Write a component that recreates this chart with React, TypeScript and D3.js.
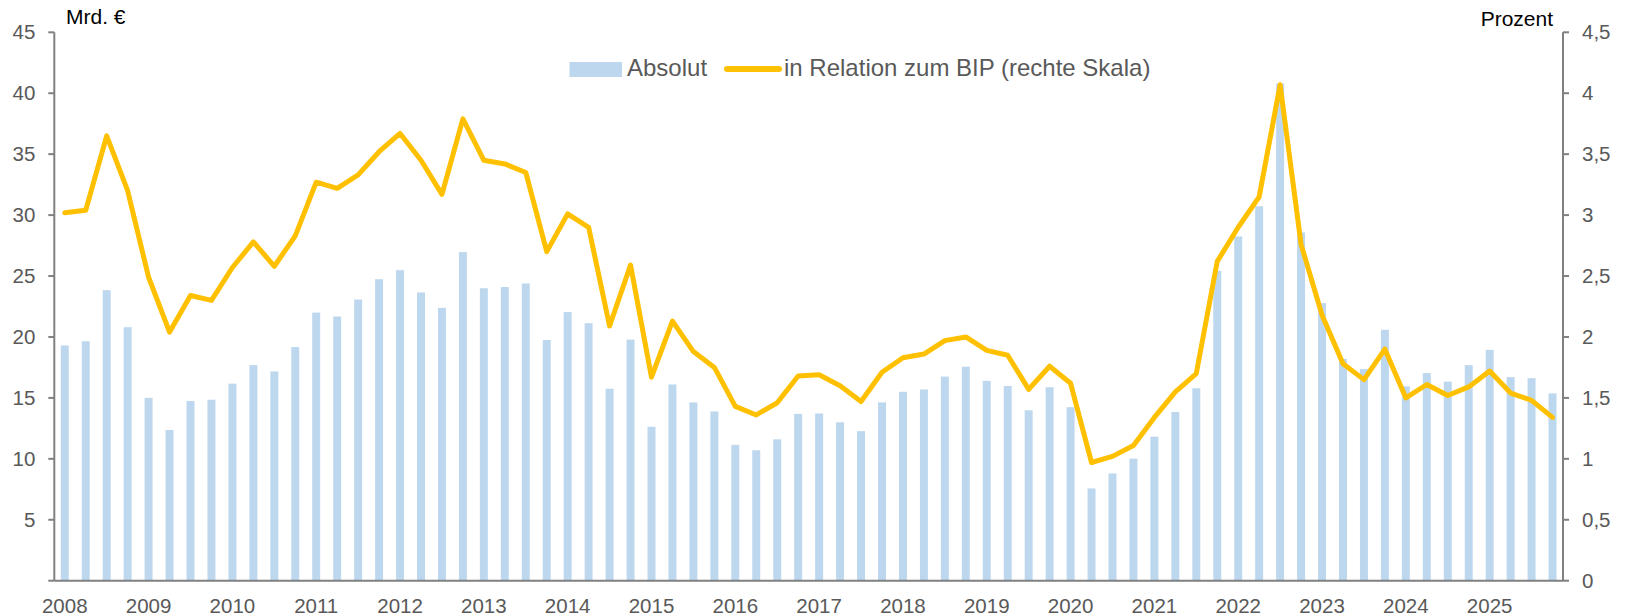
import { scaleBand, scaleLinear, line } from "d3";

// quarterly values, 2008 Q1 .. 2025 Q4
const years = [
  2008, 2009, 2010, 2011, 2012, 2013, 2014, 2015, 2016,
  2017, 2018, 2019, 2020, 2021, 2022, 2023, 2024, 2025,
];
const quarters = years.flatMap((y) => [1, 2, 3, 4].map((q) => `${y}Q${q}`));

// Mrd. € (left scale)
const absolut = [
  19.3, 19.65, 23.84, 20.8, 15.0, 12.37, 14.75, 14.85, 16.17, 17.69, 17.17, 19.17,
  22.0, 21.68, 23.07, 24.74, 25.48, 23.65, 22.39, 26.96, 24.0, 24.1, 24.39, 19.75,
  22.04, 21.13, 15.75, 19.78, 12.63, 16.1, 14.63, 13.89, 11.15, 10.7, 11.6, 13.69,
  13.72, 13.0, 12.27, 14.63, 15.5, 15.69, 16.75, 17.56, 16.4, 15.98, 13.98, 15.88,
  14.24, 7.57, 8.8, 10.02, 11.82, 13.85, 15.79, 25.42, 28.25, 30.73, 40.79, 28.58,
  22.78, 18.2, 17.36, 20.59, 15.95, 17.04, 16.33, 17.69, 18.94, 16.71, 16.62, 15.37,
];

// Prozent des BIP (right scale)
const relation = [
  3.02, 3.04, 3.65, 3.2, 2.49, 2.04, 2.34, 2.3, 2.57, 2.78, 2.58, 2.83,
  3.27, 3.22, 3.33, 3.52, 3.67, 3.45, 3.17, 3.79, 3.45, 3.42, 3.35, 2.7,
  3.01, 2.9, 2.09, 2.59, 1.67, 2.13, 1.88, 1.75, 1.43, 1.36, 1.46, 1.68,
  1.69, 1.6, 1.47, 1.71, 1.83, 1.86, 1.97, 2.0, 1.89, 1.85, 1.57, 1.76,
  1.62, 0.97, 1.02, 1.11, 1.34, 1.55, 1.7, 2.62, 2.9, 3.15, 4.07, 2.76,
  2.18, 1.78, 1.65, 1.9, 1.5, 1.61, 1.52, 1.59, 1.72, 1.54, 1.48, 1.34,
];

const leftTicks = [5, 10, 15, 20, 25, 30, 35, 40, 45];
const rightTicks = [0, 0.5, 1, 1.5, 2, 2.5, 3, 3.5, 4, 4.5];

const W = 1625;
const H = 616;
const margin = { top: 32.3, right: 62, bottom: 35.3, left: 54.3 };
const font = "'Liberation Sans', Arial, sans-serif";
const barColor = "#BDD7EE";
const lineColor = "#FFC000";
const axisColor = "#808080";
const labelColor = "#595959";

export default function App() {
  const x0 = margin.left;
  const x1 = W - margin.right;
  const yTop = margin.top;
  const yBottom = H - margin.bottom;

  const xScale = scaleBand<string>().domain(quarters).range([x0, x1]).paddingInner(0.62).paddingOuter(0.31);
  const yLeft = scaleLinear().domain([0, 45]).range([yBottom, yTop]);
  const yRight = scaleLinear().domain([0, 4.5]).range([yBottom, yTop]);

  const cx = (q: string) => (xScale(q) ?? 0) + xScale.bandwidth() / 2;

  const path = line<number>()
    .x((_, i) => cx(quarters[i]))
    .y((d) => yRight(d))(relation);

  return (
    <div style={{ position: "absolute", left: 0, top: 0 }}>
      <svg width={W} height={H} style={{ display: "block", fontFamily: font }}>
        <rect width={W} height={H} fill="#fff" />

        {/* bars */}
        {absolut.map((v, i) => (
          <rect
            key={`bar-${quarters[i]}`}
            x={xScale(quarters[i])}
            y={yLeft(v)}
            width={xScale.bandwidth()}
            height={yBottom - yLeft(v)}
            fill={barColor}
          />
        ))}

        {/* line */}
        <path d={path ?? ""} fill="none" stroke={lineColor} strokeWidth={5} strokeLinejoin="round" strokeLinecap="round" />

        {/* left axis */}
        <line x1={x0} x2={x0} y1={yTop} y2={yBottom} stroke={axisColor} strokeWidth={2} />
        {[0, ...leftTicks].map((t) => (
          <g key={`lt-${t}`}>
            <line x1={x0 - 6} x2={x0} y1={yLeft(t)} y2={yLeft(t)} stroke={axisColor} strokeWidth={2} />
            {t > 0 && (
              <text x={x0 - 19} y={yLeft(t)} dy="0.35em" textAnchor="end" fontSize={20.5} fill={labelColor}>
                {t}
              </text>
            )}
          </g>
        ))}

        {/* right axis */}
        <line x1={x1} x2={x1} y1={yTop} y2={yBottom} stroke={axisColor} strokeWidth={2} />
        {rightTicks.map((t) => (
          <g key={`rt-${t}`}>
            <line x1={x1} x2={x1 + 6} y1={yRight(t)} y2={yRight(t)} stroke={axisColor} strokeWidth={2} />
            <text x={x1 + 19} y={yRight(t)} dy="0.35em" textAnchor="start" fontSize={20.5} fill={labelColor}>
              {String(t).replace(".", ",")}
            </text>
          </g>
        ))}

        {/* x axis */}
        <line x1={x0} x2={x1} y1={yBottom} y2={yBottom} stroke={axisColor} strokeWidth={2} />
        {years.map((y) => (
          <text key={`yr-${y}`} x={cx(`${y}Q1`)} y={613} textAnchor="middle" fontSize={20.5} fill={labelColor}>
            {y}
          </text>
        ))}

        {/* axis titles */}
        <text x={66} y={24} fontSize={21} fill="#000">Mrd. €</text>
        <text x={1553} y={26} fontSize={21} textAnchor="end" fill="#000">Prozent</text>

        {/* legend */}
        <rect x={569.5} y={62} width={52.5} height={15} fill={barColor} />
        <text x={627} y={76} fontSize={24} fill={labelColor}>Absolut</text>
        <line x1={727} x2={779} y1={69} y2={69} stroke={lineColor} strokeWidth={6} strokeLinecap="round" />
        <text x={784} y={76} fontSize={24} fill={labelColor}>in Relation zum BIP (rechte Skala)</text>
      </svg>
    </div>
  );
}
